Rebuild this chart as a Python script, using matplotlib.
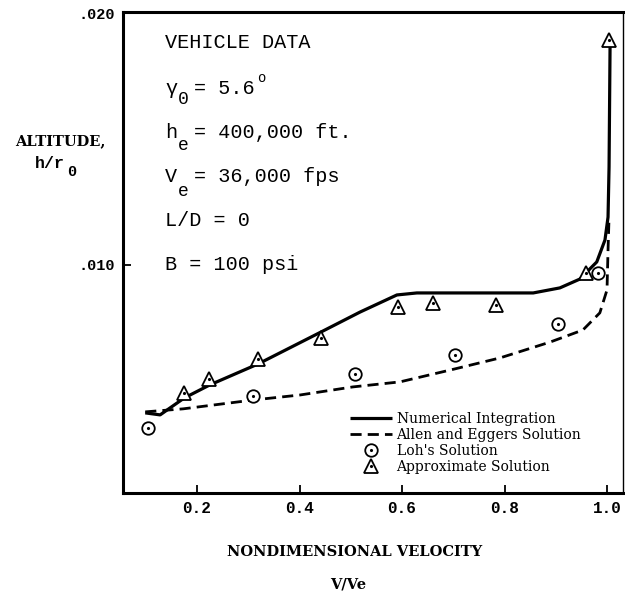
import matplotlib
matplotlib.use("Agg")
import matplotlib.pyplot as plt
from matplotlib.legend_handler import HandlerTuple

# numerical integration (solid)
num_x = [0.099, 0.128, 0.175, 0.225, 0.319, 0.442, 0.518, 0.590, 0.629, 0.727,
         0.856, 0.908, 0.947, 0.980, 0.996, 1.002, 1.004, 1.006]
num_y = [0.00413, 0.00405, 0.00472, 0.00524, 0.00607, 0.00734, 0.00813, 0.00881,
         0.00889, 0.00889, 0.00889, 0.00909, 0.00944, 0.01012, 0.01099, 0.01190,
         0.01389, 0.01881]

# Allen and Eggers solution (dashed)
ae_x = [0.099, 0.173, 0.309, 0.401, 0.504, 0.596, 0.694, 0.791, 0.889, 0.953,
        0.986, 1.000, 1.002, 1.004]
ae_y = [0.00417, 0.00429, 0.00464, 0.00484, 0.00516, 0.00536, 0.00583, 0.00631,
        0.00694, 0.00742, 0.00810, 0.00901, 0.01060, 0.01190]

# Loh's solution (circles)
loh_x = [0.104, 0.309, 0.508, 0.703, 0.904, 0.982]
loh_y = [0.00353, 0.00480, 0.00567, 0.00643, 0.00766, 0.00968]

# approximate solution (triangles)
apx_x = [0.175, 0.223, 0.319, 0.442, 0.592, 0.660, 0.783, 0.959, 1.004]
apx_y = [0.00492, 0.00548, 0.00627, 0.00710, 0.00833, 0.00849, 0.00841, 0.00968, 0.01893]

x_ticks = [0.2, 0.4, 0.6, 0.8, 1.0]
x_tick_labels = ["0.2", "0.4", "0.6", "0.8", "1.0"]
y_ticks = [0.010, 0.020]
y_tick_labels = [".010", ".020"]

W, H = 625, 594
fig = plt.figure(figsize=(W / 100, H / 100), dpi=100)
ax = fig.add_axes([123 / W, 1 - 493 / H, 500 / W, 481 / H])

h_num, = ax.plot(num_x, num_y, color="black", lw=2.3, solid_capstyle="butt")
h_ae, = ax.plot(ae_x, ae_y, color="black", lw=2.0, ls="--", dashes=(4, 2.2))
h_loh, = ax.plot(loh_x, loh_y, "o", ms=9, mfc="white", mec="black", mew=1.3)
h_lohd, = ax.plot(loh_x, loh_y, ".", color="black", ms=2.5)
h_apx, = ax.plot(apx_x, apx_y, "^", ms=10, mfc="white", mec="black", mew=1.3)
h_apxd, = ax.plot(apx_x, apx_y, ".", color="black", ms=2.5)

ax.set_xlim(0.0556, 1.0312)
ax.set_ylim(0.00095, 0.02004)

ax.set_xticks(x_ticks)
ax.set_xticklabels(x_tick_labels, family="Liberation Mono", weight="bold", fontsize=11.5)
ax.set_yticks(y_ticks)
ax.set_yticklabels(y_tick_labels, family="Liberation Mono", weight="bold", fontsize=11)
ax.tick_params(axis="both", direction="in", length=6, width=1.3, pad=6)

for side in ["left", "bottom", "top"]:
    ax.spines[side].set_linewidth(2.2)
ax.spines["right"].set_linewidth(1.0)

leg = ax.legend([h_num, h_ae, (h_loh, h_lohd), (h_apx, h_apxd)],
                ["Numerical Integration", "Allen and Eggers Solution",
                 "Loh's Solution", "Approximate Solution"],
                handler_map={tuple: HandlerTuple(ndivide=1)},
                loc="upper left", bbox_to_anchor=(0.454, 0.168),
                frameon=False, borderpad=0, borderaxespad=0,
                handlelength=3.0, handletextpad=0.35, labelspacing=0.14,
                prop={"family": "DejaVu Serif", "size": 10})

# vehicle data block, typed in mono
mono = dict(family="Liberation Mono", fontsize=14.5, va="center", color="black")
sub = dict(family="Liberation Mono", fontsize=13, va="center", color="black")


def ftext(px, py, s, **kw):
    fig.text(px / W, 1 - py / H, s, **kw)


ftext(165, 42, "VEHICLE DATA", **mono)
ftext(165, 88, "γ", **mono)
ftext(178, 99, "0", **sub)
ftext(194, 88, "= 5.6", **mono)
ftext(257, 78, "o", family="Liberation Mono", fontsize=10, va="center")
ftext(165, 132, "h", **mono)
ftext(178, 146, "e", **sub)
ftext(194, 132, "= 400,000 ft.", **mono)
ftext(165, 177, "V", **mono)
ftext(178, 191, "e", **sub)
ftext(194, 177, "= 36,000 fps", **mono)
ftext(165, 221, "L/D = 0", **mono)
ftext(165, 265, "B = 100 psi", **mono)

# axis titles
ftext(60, 141, "ALTITUDE,", family="DejaVu Serif", weight="bold", fontsize=10.5,
      ha="center", va="center")
ftext(35, 163, "h/r", family="Liberation Mono", weight="bold", fontsize=12, va="center")
ftext(67, 172, "0", family="Liberation Mono", weight="bold", fontsize=11, va="center")
ftext(355, 552, "NONDIMENSIONAL VELOCITY", family="DejaVu Serif", weight="bold",
      fontsize=10.5, ha="center", va="center")
ftext(348, 584, "V/Ve", family="DejaVu Serif", weight="bold", fontsize=10.5,
      ha="center", va="center")

fig.savefig("out.png", dpi=100)
